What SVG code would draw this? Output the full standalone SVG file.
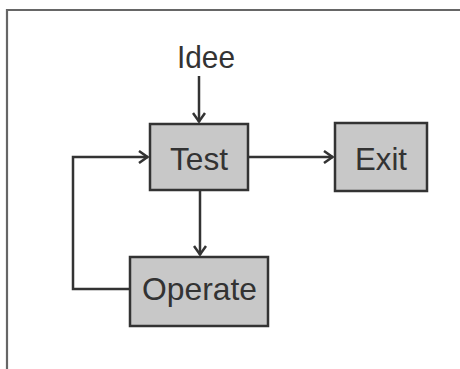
<svg xmlns="http://www.w3.org/2000/svg" width="460" height="369" viewBox="0 0 460 369">
<style>
.box{fill:#c8c8c8;stroke:#333;stroke-width:2.5}
.lbl{font-family:"Liberation Sans",Arial,sans-serif;font-size:32px;fill:#333;text-anchor:middle}
.con{fill:none;stroke:#333;stroke-width:2.5}
</style>
<defs>
<marker id="ah" viewBox="0 0 12 14" refX="11" refY="7" markerWidth="12" markerHeight="14" markerUnits="userSpaceOnUse" orient="auto">
<path d="M2,1 L10.5,7 L2,13" fill="none" stroke="#333" stroke-width="2.5"/>
</marker>
</defs>
<rect width="460" height="369" fill="#fff"/>
<path d="M7,369 V10 H460" fill="none" stroke="#666" stroke-width="2.2"/>
<g id="connectors">
<path class="con" d="M199,76 V122" marker-end="url(#ah)"/>
<path class="con" d="M248,157 H333" marker-end="url(#ah)"/>
<path class="con" d="M200,190 V255" marker-end="url(#ah)"/>
<path class="con" d="M130,289 H73 V157 H148" marker-end="url(#ah)"/>
</g>
<g id="idee">
<text class="lbl" x="206" y="68" textLength="58" lengthAdjust="spacingAndGlyphs">Idee</text>
</g>
<g id="test">
<rect class="box" x="150" y="124" width="98" height="66"/>
<text class="lbl" x="199" y="170" textLength="58" lengthAdjust="spacingAndGlyphs">Test</text>
</g>
<g id="exit">
<rect class="box" x="335" y="123" width="92" height="68"/>
<text class="lbl" x="381" y="170" textLength="52" lengthAdjust="spacingAndGlyphs">Exit</text>
</g>
<g id="operate">
<rect class="box" x="130" y="257" width="138" height="69"/>
<text class="lbl" x="199.5" y="300" textLength="115" lengthAdjust="spacingAndGlyphs">Operate</text>
</g>
</svg>
